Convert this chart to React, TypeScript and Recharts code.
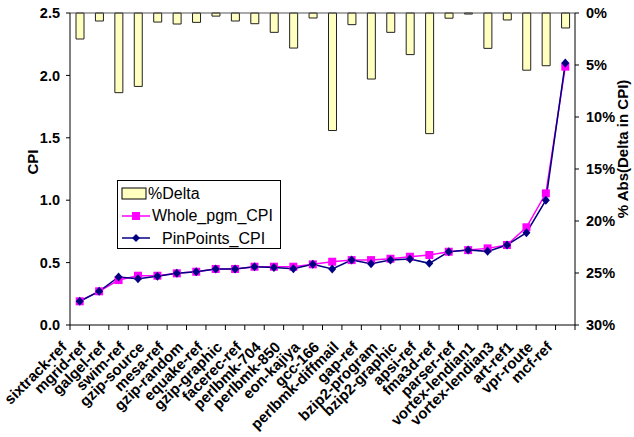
import React from "react";
import {
  Bar,
  ComposedChart,
  Legend,
  Line,
  ReferenceLine,
  XAxis,
  YAxis,
} from "recharts";

const benchmarks = [
  "sixtrack-ref", "mgrid-ref", "galgel-ref", "swim-ref", "gzip-source", "mesa-ref",
  "gzip-random", "equake-ref", "gzip-graphic", "facerec-ref", "perlbmk-704", "perlbmk-850",
  "eon-kajiya", "gcc-166", "perlbmk-diffmail", "gap-ref", "bzip2-program", "bzip2-graphic",
  "apsi-ref", "fma3d-ref", "parser-ref", "vortex-lendian1", "vortex-lendian3", "art-ref1",
  "vpr-route", "mcf-ref",
];

// % abs delta between whole program and PinPoints CPI
const deltaPct = [
  2.5, 0.77, 7.66, 7.06, 0.87, 1.06, 0.9, 0.3, 0.77, 1.03, 1.86, 3.37, 0.48, 11.3,
  1.12, 6.35, 1.86, 4.0, 11.6, 0.5, 0.1, 3.4, 0.67, 5.5, 5.07, 1.44,
];

const wholeCpi = [
  0.19, 0.27, 0.36, 0.395, 0.395, 0.414, 0.427, 0.449, 0.449, 0.467, 0.467, 0.467, 0.486,
  0.507, 0.52, 0.52, 0.531, 0.547, 0.561, 0.587, 0.6, 0.614, 0.641, 0.783, 1.055, 2.07,
];

const pinpointsCpi = [
  0.19, 0.27, 0.385, 0.37, 0.39, 0.414, 0.427, 0.449, 0.449, 0.467, 0.46, 0.45, 0.486,
  0.449, 0.52, 0.49, 0.52, 0.529, 0.494, 0.587, 0.6, 0.59, 0.641, 0.74, 1.0, 2.1,
];

const cpiTicks = [0, 0.5, 1.0, 1.5, 2.0, 2.5];
const pctTicks = [0, 5, 10, 15, 20, 25, 30];

const data = benchmarks.map((name, i) => ({
  name,
  "%Delta": deltaPct[i],
  Whole_pgm_CPI: wholeCpi[i],
  PinPoints_CPI: pinpointsCpi[i],
}));

const W = 634;
const H = 437;
const LEFT_W = 70;
const RIGHT_W = 59;
const BAND = (W - LEFT_W - RIGHT_W) / benchmarks.length;
const FONT = "'Liberation Sans', Arial, sans-serif";

const CategoryTick = (props: any) => {
  const { x, y, payload, index } = props;
  const left = x - BAND / 2;
  return (
    <g>
      <line x1={left} y1={y} x2={left} y2={y + 5} stroke="#000" />
      {index === benchmarks.length - 1 && (
        <line x1={x + BAND / 2} y1={y} x2={x + BAND / 2} y2={y + 5} stroke="#000" />
      )}
      <text
        transform={`translate(${x - 12},${y + 23}) rotate(-45)`}
        textAnchor="end"
        fontFamily={FONT}
        fontWeight="bold"
        fontSize={15}
        fill="#000"
      >
        {payload.value}
      </text>
    </g>
  );
};

const SquareDot = (props: any) => {
  const { cx, cy, index } = props;
  if (cx == null || cy == null) return null;
  return <rect key={`sq-${index}`} x={cx - 4} y={cy - 4} width={8} height={8} fill="#FF00FF" />;
};

const DiamondDot = (props: any) => {
  const { cx, cy, index } = props;
  if (cx == null || cy == null) return null;
  return (
    <path
      key={`dm-${index}`}
      d={`M${cx},${cy - 4.5} L${cx + 4},${cy} L${cx},${cy + 4.5} L${cx - 4},${cy} Z`}
      fill="#000080"
    />
  );
};

const renderLegend = () => (
  <svg width={164} height={69} style={{ display: "block" }}>
    <rect x={0.5} y={0.5} width={163} height={68} fill="#fff" stroke="#000" />
    <rect x={5} y={8} width={24} height={11} fill="#FFFFC0" stroke="#000" />
    <text x={31} y={19} fontSize={16} fontFamily={FONT}>%Delta</text>
    <line x1={5} y1={36} x2={33} y2={36} stroke="#FF00FF" strokeWidth={1.5} />
    <rect x={15} y={32} width={8} height={8} fill="#FF00FF" />
    <text x={35} y={41} fontSize={16} fontFamily={FONT}>Whole_pgm_CPI</text>
    <line x1={5} y1={58} x2={33} y2={58} stroke="#000080" strokeWidth={1.5} />
    <path d="M19,54 L23,58 L19,62 L15,58 Z" fill="#000080" />
    <text x={45} y={64} fontSize={16} fontFamily={FONT}>PinPoints_CPI</text>
  </svg>
);

export default function App() {
  return (
    <div style={{ position: "absolute", left: 0, top: 0, background: "#fff" }}>
      <ComposedChart
        width={W}
        height={H}
        data={data}
        margin={{ top: 13, right: 0, left: 0, bottom: 0 }}
        barCategoryGap={0}
      >
        <XAxis
          dataKey="name"
          height={112}
          interval={0}
          tickLine={false}
          tickSize={0}
          tickMargin={0}
          tick={<CategoryTick />}
          axisLine={{ stroke: "#000" }}
        />
        <YAxis
          yAxisId="left"
          width={LEFT_W}
          domain={[0, 2.5]}
          ticks={cpiTicks}
          tickFormatter={(v: number) => v.toFixed(1)}
          tickSize={4}
          tickMargin={6}
          tickLine={{ stroke: "#000" }}
          axisLine={{ stroke: "#000" }}
          tick={{ fill: "#000", fontFamily: FONT, fontWeight: "bold", fontSize: 14.5 }}
          label={{
            content: () => (
              <text
                transform="translate(38,162) rotate(-90)"
                textAnchor="middle"
                fontFamily={FONT}
                fontWeight="bold"
                fontSize={15}
              >
                CPI
              </text>
            ),
          }}
        />
        <YAxis
          yAxisId="right"
          orientation="right"
          width={RIGHT_W}
          domain={[0, 30]}
          reversed
          ticks={pctTicks}
          tickFormatter={(v: number) => `${v}%`}
          tickSize={4}
          tickMargin={7}
          tickLine={{ stroke: "#000" }}
          axisLine={{ stroke: "#000" }}
          tick={{ fill: "#000", fontFamily: FONT, fontWeight: "bold", fontSize: 14.5 }}
          label={{
            content: () => (
              <text
                transform="translate(628,149) rotate(-90)"
                textAnchor="middle"
                fontFamily={FONT}
                fontWeight="bold"
                fontSize={15}
              >
                % Abs(Delta in CPI)
              </text>
            ),
          }}
        />
        <ReferenceLine yAxisId="right" y={0} stroke="#555" />
        <Bar
          yAxisId="right"
          dataKey="%Delta"
          barSize={8}
          fill="#FFFFC0"
          stroke="#222"
          strokeWidth={1}
          isAnimationActive={false}
        />
        <Line
          yAxisId="left"
          dataKey="Whole_pgm_CPI"
          stroke="#FF00FF"
          strokeWidth={1.5}
          dot={<SquareDot />}
          activeDot={false}
          isAnimationActive={false}
        />
        <Line
          yAxisId="left"
          dataKey="PinPoints_CPI"
          stroke="#000080"
          strokeWidth={1.5}
          dot={<DiamondDot />}
          activeDot={false}
          isAnimationActive={false}
        />
        <Legend
          layout="horizontal"
          align="center"
          verticalAlign="middle"
          content={renderLegend}
          wrapperStyle={{ left: 117, top: 180, width: 164, height: 69 }}
        />
      </ComposedChart>
    </div>
  );
}
